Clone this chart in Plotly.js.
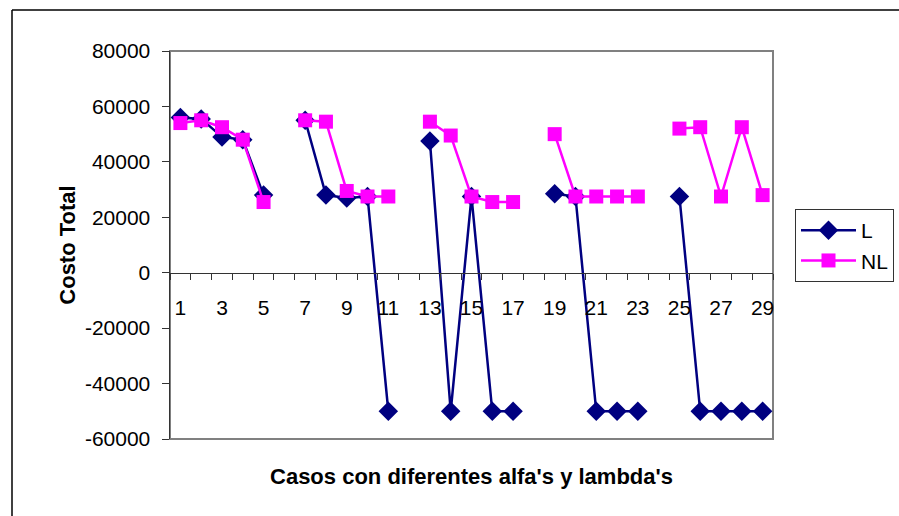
<!DOCTYPE html>
<html>
<head>
<meta charset="utf-8">
<script src="https://cdn.plot.ly/plotly-3.0.1.min.js"></script>
<style>
  html, body { margin: 0; padding: 0; background: #fff; }
  #chart { width: 899px; height: 516px; }
</style>
</head>
<body>
<div id="chart"></div>
<script>
const casos = [1,2,3,4,5,6,7,8,9,10,11,12,13,14,15,16,17,18,19,20,21,22,23,24,25,26,27,28,29];
const serieL = [56000,55500,49000,48000,28000,null,55000,28000,27000,27500,-50000,null,
                47500,-50000,27500,-50000,-50000,null,28500,27500,-50000,-50000,-50000,null,
                27500,-50000,-50000,-50000,-50000];
const serieNL = [54000,55000,52500,48000,25500,null,55000,54500,29500,27500,27500,null,
                 54500,49500,27500,25500,25500,null,50000,27500,27500,27500,27500,null,
                 52000,52500,27500,52500,28000];
const xTickVals = [1,3,5,7,9,11,13,15,17,19,21,23,25,27,29];
const xTickText = ["1","3","5","7","9","11","13","15","17","19","21","23","25","27","29"];
const yTickVals = [-60000,-40000,-20000,0,20000,40000,60000,80000];
const yTickText = ["-60000","-40000","-20000","0","20000","40000","60000","80000"];
const nombreL = "L";
const nombreNL = "NL";
const tituloX = "Casos con diferentes alfa's y lambda's";
const tituloY = "Costo Total";

const font = "Arial, 'Liberation Sans', sans-serif";

const traces = [
  {
    x: casos, y: serieL, name: nombreL, type: 'scatter', mode: 'lines+markers',
    connectgaps: false,
    line: { color: '#000080', width: 2.5 },
    marker: { symbol: 'diamond', size: 15, color: '#000080' }
  },
  {
    x: casos, y: serieNL, name: nombreNL, type: 'scatter', mode: 'lines+markers',
    connectgaps: false,
    line: { color: '#FF00FF', width: 2.5 },
    marker: { symbol: 'square', size: 14, color: '#FF00FF' }
  }
];

const W = 603, H = 388; // plot area size in px
function px(x) { return (x - 170) / W; }
function py(y) { return (439 - y) / H; }

const layout = {
  width: 899, height: 516,
  margin: { l: 170, r: 126, t: 51, b: 77, autoexpand: false },
  paper_bgcolor: '#ffffff', plot_bgcolor: '#ffffff',
  font: { family: font, size: 21, color: '#000000' },
  showlegend: true,
  legend: {
    xref: 'container', yref: 'container',
    x: 795 / 899, y: 1 - 209 / 516, xanchor: 'left', yanchor: 'top',
    bordercolor: '#333333', borderwidth: 1, bgcolor: '#ffffff',
    font: { family: font, size: 21, color: '#000' },
    itemwidth: 55,
    tracegroupgap: 0
  },
  xaxis: {
    range: [0.5, 29.5],
    anchor: 'free', position: 60/140,
    showgrid: false, zeroline: false,
    showline: true, linecolor: '#333333', linewidth: 1.5,
    tickmode: 'array', tickvals: xTickVals, ticktext: xTickText,
    ticks: '', ticklabelstandoff: 16,
    tickfont: { family: font, size: 21, color: '#000' },
    minor: { tickmode: 'linear', tick0: 0.5, dtick: 1, ticks: 'outside', ticklen: 6, tickwidth: 1, tickcolor: '#333333', showgrid: false },
    title: { text: tituloX, font: { family: font, size: 22, color: '#000', weight: 'bold' }, standoff: 150 }
  },
  yaxis: {
    range: [-60000, 80000],
    tickmode: 'array', tickvals: yTickVals, ticktext: yTickText,
    showgrid: false, zeroline: false,
    showline: true, linecolor: '#333333', linewidth: 1.5,
    ticks: 'outside', ticklen: 7, tickwidth: 1, tickcolor: '#333333',
    ticklabelstandoff: 7,
    tickfont: { family: font, size: 21, color: '#000' },
    title: { text: tituloY, font: { family: font, size: 22, color: '#000', weight: 'bold' }, standoff: 3 }
  },
  shapes: [
    { type: 'rect', xref: 'paper', yref: 'paper', x0: 0, x1: 1, y0: 0, y1: 1,
      line: { color: '#808080', width: 2 }, layer: 'below' },
    { type: 'line', xref: 'paper', yref: 'paper', x0: px(12), x1: px(12), y0: py(10), y1: py(530),
      line: { color: '#000000', width: 1.5 } },
    { type: 'line', xref: 'paper', yref: 'paper', x0: px(12), x1: px(910), y0: py(10), y1: py(10),
      line: { color: '#000000', width: 1.5 } }
  ]
};

Plotly.newPlot('chart', traces, layout, { displayModeBar: false, staticPlot: true });
</script>
</body>
</html>
